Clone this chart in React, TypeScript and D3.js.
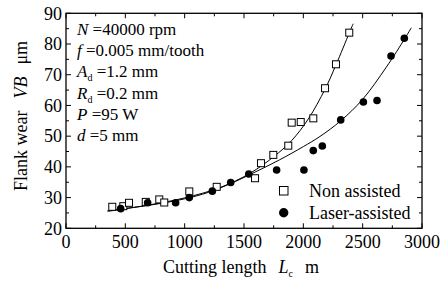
import React from "react";
import * as d3 from "d3";

const xTicks = [0, 500, 1000, 1500, 2000, 2500, 3000];
const yTicks = [20, 30, 40, 50, 60, 70, 80, 90];

const nonAssisted: [number, number][] = [
  [390, 27.0], [483, 27.2], [531, 28.3], [672, 28.6], [786, 29.4], [828, 28.4],
  [1039, 32.0], [1270, 33.5], [1593, 36.3], [1643, 41.2], [1747, 43.9], [1873, 46.9],
  [1902, 54.4], [1978, 54.6], [2084, 55.8], [2183, 65.6], [2275, 73.4], [2387, 83.7],
];

const laserAssisted: [number, number][] = [
  [461, 26.4], [688, 28.3], [924, 28.3], [1039, 30.0], [1233, 32.1], [1388, 34.9],
  [1540, 37.7], [1775, 39.0], [2005, 39.0], [2084, 45.3], [2160, 46.8], [2315, 55.3],
  [2506, 61.1], [2621, 61.6], [2739, 76.1], [2851, 81.9],
];

const nonFit: [number, number][] = [
  [350, 25.5], [700, 27.6], [1000, 29.9], [1300, 33.3], [1550, 37.9], [1750, 43.3],
  [1900, 48.5], [2042, 55.6], [2183, 65.3], [2275, 73.2], [2387, 83.6], [2420, 86.6],
];

const laserFit: [number, number][] = [
  [350, 25.8], [700, 27.5], [1000, 29.6], [1200, 31.7], [1390, 34.6], [1540, 37.3],
  [1800, 42.3], [2000, 46.6], [2140, 49.9], [2315, 55.0], [2500, 62.0], [2700, 72.5],
  [2857, 81.9], [2910, 85.3],
];

const W = 444, H = 283;
const L = 66, R = 422, T = 13.3, B = 228.3;
const font = "Liberation Serif, DejaVu Serif, serif";

export default function App() {
  const x = d3.scaleLinear().domain([0, 3000]).range([L, R]);
  const y = d3.scaleLinear().domain([20, 90]).range([B, T]);
  const line = d3.line<[number, number]>().x(d => x(d[0])).y(d => y(d[1])).curve(d3.curveCatmullRom);
  const xMinor = d3.range(250, 3000, 500);
  const yMinor = d3.range(25, 90, 10);
  const M = 5, m = 3;
  return (
    <svg width={W} height={H} style={{ position: "absolute", left: 0, top: 0, background: "#fff", fontFamily: font }}>
      <rect x={0} y={0} width={W} height={H} fill="#fff" />
      <g stroke="#000" strokeWidth={1}>
        {xTicks.map(t => (
          <g key={"xt" + t}>
            <line x1={x(t)} x2={x(t)} y1={B} y2={B - M} />
            <line x1={x(t)} x2={x(t)} y1={T} y2={T + M} />
          </g>
        ))}
        {xMinor.map(t => (
          <g key={"xm" + t}>
            <line x1={x(t)} x2={x(t)} y1={B} y2={B - m} />
            <line x1={x(t)} x2={x(t)} y1={T} y2={T + m} />
          </g>
        ))}
        {yTicks.map(t => (
          <g key={"yt" + t}>
            <line x1={L} x2={L + M} y1={y(t)} y2={y(t)} />
            <line x1={R} x2={R - M} y1={y(t)} y2={y(t)} />
          </g>
        ))}
        {yMinor.map(t => (
          <g key={"ym" + t}>
            <line x1={L} x2={L + m} y1={y(t)} y2={y(t)} />
            <line x1={R} x2={R - m} y1={y(t)} y2={y(t)} />
          </g>
        ))}
      </g>
      <rect x={L} y={T} width={R - L} height={B - T} fill="none" stroke="#000" strokeWidth={1.3} />
      <g fontSize={18} fill="#000" style={{ fontFamily: font }}>
        {xTicks.map(t => (
          <text key={"xl" + t} x={x(t)} y={247.5} textAnchor="middle">{t}</text>
        ))}
        {yTicks.map(t => (
          <text key={"yl" + t} x={62} y={y(t)} dy="0.35em" textAnchor="end">{t}</text>
        ))}
      </g>
      <path d={line(nonFit) || ""} fill="none" stroke="#000" strokeWidth={1} />
      <path d={line(laserFit) || ""} fill="none" stroke="#000" strokeWidth={1} />
      {nonAssisted.map((d, i) => (
        <rect key={"n" + i} x={x(d[0]) - 3.5} y={y(d[1]) - 3.5} width={7} height={7} fill="#fff" stroke="#000" strokeWidth={1} />
      ))}
      {laserAssisted.map((d, i) => (
        <circle key={"l" + i} cx={x(d[0])} cy={y(d[1])} r={3.8} fill="#000" />
      ))}
      <g fontSize={17} fill="#000" style={{ fontFamily: font }}>
        <text x={77} y={35}><tspan fontStyle="italic">N</tspan> =40000 rpm</text>
        <text x={77} y={56.2}><tspan fontStyle="italic">f</tspan> =0.005 mm/tooth</text>
        <text x={77} y={77.4}><tspan fontStyle="italic">A</tspan><tspan fontSize={10} dy={4}>d</tspan><tspan dy={-4}> =1.2 mm</tspan></text>
        <text x={77} y={98.6}><tspan fontStyle="italic">R</tspan><tspan fontSize={10} dy={4}>d</tspan><tspan dy={-4}> =0.2 mm</tspan></text>
        <text x={77} y={119.8}><tspan fontStyle="italic">P</tspan> =95 W</text>
        <text x={77} y={141}><tspan fontStyle="italic">d</tspan> =5 mm</text>
      </g>
      <rect x={279.5} y={186.5} width={8.5} height={8.5} fill="#fff" stroke="#000" strokeWidth={1} />
      <circle cx={283.7} cy={212.7} r={4.7} fill="#000" />
      <g fontSize={18} fill="#000" style={{ fontFamily: font }}>
        <text x={309} y={196.5}>Non assisted</text>
        <text x={309} y={219}>Laser-assisted</text>
      </g>
      <text x={163} y={273} fontSize={18} fill="#000" style={{ fontFamily: font }}>
        Cutting length<tspan dx={12} fontStyle="italic">L</tspan><tspan fontSize={10} dy={4}>c</tspan><tspan dy={-4} dx={12}>m</tspan>
      </text>
      <text transform={`translate(27,116) rotate(-90)`} textAnchor="middle" fontSize={18} fill="#000" style={{ fontFamily: font }}>
        Flank wear<tspan dx={12} fontStyle="italic">VB</tspan><tspan dx={12}>μm</tspan>
      </text>
    </svg>
  );
}
